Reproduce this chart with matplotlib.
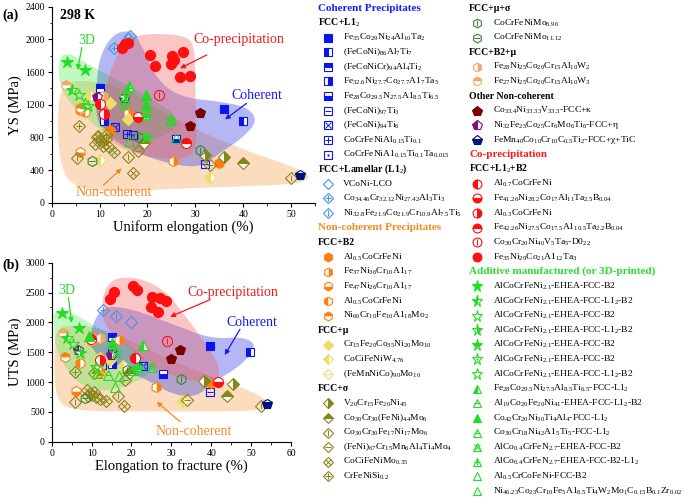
import re
import numpy as np
import matplotlib
matplotlib.use('Agg')
import matplotlib.pyplot as plt
from matplotlib.patches import Polygon

plt.rcParams['font.family'] = ['Liberation Serif', 'DejaVu Serif']
plt.rcParams['mathtext.fontset'] = 'custom'
plt.rcParams['mathtext.rm'] = 'Liberation Serif'
plt.rcParams['mathtext.it'] = 'Liberation Serif:italic'
plt.rcParams['mathtext.bf'] = 'Liberation Serif:bold'

# ---------------- data: (elongation, strength) pairs per alloy ----------------
# coherent precipitates, FCC+L1_2
COH_LABELS = ['Fe_35Co_29Ni_24Al_10Ta_2', '(FeCoNi)_86Al_7Ti_7', '(FeCoNiCr)_94Al_4Ti_2',
              'Fe_32.6Ni_27.7Co_27.7A1_7Ta_5', 'Fe_28Co_29.5N_27.5A1_8.5Ti_6.5', '(FeCoNi)_97Ti_3',
              '(FeCoNi)_94Ti_6', 'CoCrFeNiAl_0.15Ti_0.1', 'CoCrFeNiA1_0.15Ti_0.1Ta_0.015']
COH_YS = [[(36, 1145)], [(40, 1000)], [(10, 1400)], [(11, 995)], [(26, 780)],
          [(32, 475)], [(13.2, 925)], [(15.8, 840)], [(17, 830)]]
COH_UTS = [[(39.8, 1610)], [(49.7, 1500)], [(15, 1750)], [(15, 1310)], [(27.8, 1130)],
           [(39.8, 835)], [(22.8, 1265)], [(15, 1510)], [(12.5, 1285)]]

# coherent, FCC+lamellar
LAM_LABELS = ['VCoNi-LCO', 'Co_34.46Cr_32.12Ni_27.42Al_3Ti_3', 'Ni_32.8Fe_21.9Co_21.9Cr_10.9Al_7.5Ti_5']
LAM_YS = [[(16, 2010)], [(13, 1900)], [(16.3, 2040)]]
LAM_UTS = [[(19.9, 2005)], [(12.8, 2205)], [(16, 2110)]]

# non-coherent, FCC+B2
B2_LABELS = ['Al_0.5CoCrFeNi', 'Fe_37Ni_36Cr_10A1_17', 'Fe_47Ni_26Cr_10A1_17', 'Al_0.5CoCrFeNi',
             'Ni_60Cr_10Fe_10A1_18Mo_2']
B2_YS = [[(12.2, 890), (35, 490)], [(25.3, 510), (16, 1095)], [(6, 625), (11, 770)],
         [(5.9, 1135), (7, 1105)], [(6, 1160)]]
B2_UTS = [[(40, 990), (12.1, 1175)], [(26.1, 910), (17, 1705)], [(6.1, 850), (11.3, 1200)],
          [(7.1, 1325), (10.7, 1735)], [(3.3, 1425), (10, 1690)]]

# non-coherent, FCC+mu
MU_LABELS = ['Cr_15Fe_20Co_35Ni_20Mo_10', 'CoCiFeNiW_4.76', '(FeMnNiCo)_90Mo_10']
MU_YS = [[(12.2, 1215), (16, 1030)], [(7.9, 1305), (10.1, 520), (33.1, 318)], [(10.5, 850)]]
MU_UTS = [[(12.1, 1405), (14.6, 1370)], [(17.9, 1265), (33, 690)], [(12, 1100)]]

# non-coherent, FCC+sigma
SIG_LABELS = ['V_20Cr_15Fe_20Ni_45', 'Co_30Cr_30(FeNi)_44Mo_6', 'Co_30Cr_30Fe_17Ni_17Mo_6',
              '(FeNi)_67Cr_15Mn_6Al_4Ti_4Mo_4', 'CoCiFeNiMo_0.35', 'CrFeNiSi_0.2']
SIG_YS = [[(32, 585), (36, 555)], [(40, 485), (19.3, 725)], [(5.2, 545), (16, 560), (49.9, 300)],
          [(18, 630), (33, 460)],
          [(9.4, 800), (10.2, 760), (9, 720), (10.8, 700), (12, 680), (13, 620), (17, 360),
           (9.6, 820), (11.4, 780)],
          [(5.8, 940), (11.3, 830)]]
SIG_UTS = [[(38.2, 1015), (45.5, 970)], [(44, 770), (19.5, 1150)], [(5.8, 670), (16.7, 770), (52.5, 600)],
           [(18.4, 1035), (34, 700)],
           [(8.8, 870), (9.5, 820), (10.2, 780), (11.2, 750), (12, 720), (13.6, 690), (18.1, 605),
            (9, 760), (10.7, 840)],
           [(5.8, 1170), (10.5, 1150)]]

# non-coherent, FCC+mu+sigma
MS_LABELS = ['CoCrFeNiMo_6.96', 'CoCrFeNiMo_11.12']
MS_YS = [[(31, 645), (18, 810)], [(8.4, 505)]]
MS_UTS = [[(32.4, 1045), (19, 1200)], [(8.4, 730)]]

# non-coherent, FCC+B2+mu
BM_LABELS = ['Fe_28Ni_25Co_20Cr_15Al_10W_2', 'Fe_27Ni_25Co_20Cr_15Al_10W_3']
BM_YS = [[(10.8, 1310)], [(2.9, 1440)]]
BM_UTS = [[(12, 1740)], [(2.9, 1825)]]

# other non-coherent
OTH_LABELS = ['Co_33.4Ni_33.33V_33.3-FCC+κ', 'Ni_32Fe_25Co_25Cr_6Mo_6Ti_6-FCC+η',
              'FeMn_40Co_10Cr_10C_0.5Ti_2-FCC+χ+TiC']
OTH_YS = [[(31, 1095), (28.9, 940)], [(9.4, 1290), (15, 1285)], [(51.9, 340)]]
OTH_UTS = [[(32.2, 1545), (29.9, 1380)], [(6.7, 1535), (14.9, 1450)], [(53.9, 630)]]

# co-precipitation, FCC+L1_2+B2
CO_LABELS = ['Al_0.7CoCrFeNi', 'Fe_41.26Ni_28.2Co_17Al_11Ta_2.5B_0.04', 'Al_0.3CoCrFeNi',
             'Fe_42.26Ni_27.5Co_17.5A1_10.5Ta_2.2B_0.04', 'Co_30Cr_20Ni_40V_5Ta_5-D0_22',
             'Fe_35Ni_29Co_21A1_12Ta_3']
CO_YS = [[(10, 1205)], [(18, 1050)], [(11, 1085)], [(28, 725)], [(22.4, 1320)],
         [(14.6, 1890), (15.3, 1940), (15.9, 1960), (20.5, 1810), (21.6, 1675), (25.2, 1795),
          (24.9, 1700), (25.6, 1750), (27.5, 1850), (26.8, 1535), (28.9, 1550)]]
CO_UTS = [[(20.9, 1405)], [(41.8, 1005)], [(12, 1370)], [(9.8, 1720)], [(28.8, 1690)],
          [(14.6, 2385), (15.5, 2515), (20.5, 2610), (21.5, 2540), (25.1, 2430), (24.8, 2250),
           (27.2, 2415), (26.7, 2180), (28.6, 2365)]]

# additive manufactured (3D printed)
AM_LABELS = ['AlCoCrFeNi_2.1-EHEA-FCC-B2', 'AlCoCrFeNi_2.1-EHEA-FCC-L1_2-B2', 'AlCoCrFeNi_2.1-EHEA-FCC-B2',
             'AlCoCrFeNi_2.1-EHEA-FCC-L1_2-B2', 'AlCoCrFeNi_2.1-EHEA-FCC-B2', 'AlCoCrFeNi_2.1-EHEA-FCC-B2',
             'AlCoCrFeNi_2.1-EHEA-FCC-L1_2-B2', 'Fe_28Co_29.5Ni_27.5Al_8.5Ti_6.5-FCC-L1_2',
             'Al_19Co_20Fe_20Ni_41-EHEA-FCC-L1_2-B2', 'Co_42Cr_20Ni_30Ti_4Al_4-FCC-L1_2',
             'Co_30Cr_18Ni_42A1_5Ti_5-FCC-L1_2', 'AlCo_0.4CrFeN_2.7-EHEA-FCC-B2',
             'AlCo_0.4CrFeN_2.7-EHEA-FCC-B2-L1_2', 'Al_0.5CrCoFeNi-FCC-B2',
             'Ni_46.23Co_23Cr_10Fe_5A1_8.5Ti_4W_2Mo_1C_0.15B_0.1Zr_0.02']
AM_YS = [[(3.1, 1725), (7, 1625), (19.8, 800)], [(4.2, 1380)], [(5.6, 1320)], [(15, 1300)],
         [(19.8, 1060)], [(15.2, 1200)], [(7.5, 1190)], [(16.2, 1430)], [(6.9, 1215)],
         [(19.8, 1320), (19.8, 1195)], [(16.2, 1410)], [(24.7, 1010)], [(25, 1030)],
         [(16.2, 750)], [(26, 790)]]
AM_UTS = [[(2.7, 2150), (6.9, 1910)], [(3.9, 1740)], [(5.3, 1630)], [(7.1, 1490)],
          [(21.7, 1230)], [(16, 1480)], [(11, 1250)], [(23, 1620)], [(14.2, 1115)],
          [(9.4, 1770), (15, 1650)], [(11.3, 1145)], [(25.1, 1255)], [(20.5, 1200)],
          [(15.9, 910)], [(17, 1100)]]

# ---------------- styles: (marker, fill, inner marks) ----------------
COH_ST = [('s', 'full', ''), ('s', 'left', ''), ('s', 'top', ''), ('s', 'right', ''), ('s', 'bottom', ''),
          ('s', 'none', '_'), ('s', 'none', 'x'), ('s', 'none', '+'), ('s', 'none', '.')]
LAM_ST = [('D', 'none', ''), ('D', 'none', '+'), ('D', 'none', '|')]
B2_ST = [('h', 'full', ''), ('h', 'right', ''), ('h', 'bottom', ''), ('h', 'left', ''), ('h', 'top', '')]
MU_ST = [('D', 'full', ''), ('D', 'left', ''), ('D', 'none', '_')]
SIG_ST = [('D', 'right', ''), ('D', 'top', ''), ('D', 'none', '|'), ('D', 'none', '_'),
          ('D', 'none', 'x'), ('D', 'none', '+')]
MS_ST = [('h', 'none', '|'), ('h', 'none', '_')]
BM_ST = [('h', 'right', ''), ('h', 'top', '')]
OTH_ST = [('p', 'full', ''), ('p', 'left', ''), ('p', 'bottom', '')]
CO_ST = [('o', 'left', ''), ('o', 'bottom', ''), ('o', 'right', ''), ('o', 'top', ''),
         ('o', 'none', '|'), ('o', 'full', '')]
AM_ST = [('*', 'full', ''), ('*', 'left', ''), ('*', 'none', ''), ('*', 'right', ''), ('*', 'top', ''),
         ('*', 'none', '.'), ('*', 'none', ''), ('^', 'left', ''), ('^', 'none', '_'), ('^', 'full', ''),
         ('^', 'none', '_'), ('^', 'none', 'x'), ('^', 'none', '+'), ('^', 'none', ''), ('^', 'none', '')]

BLUE, LBLUE, ORANGE, YELLOW, OLIVE = '#0a14f0', '#3d9be8', '#ff7f0e', '#eedc6a', '#86861c'
DGREEN, LORANGE, DRED, PURPLE, NAVY = '#2e8b2e', '#f5a860', '#7a0000', '#80108a', '#00107a'
RED, GREEN = '#ff0f0f', '#22dd22'

SERIES = [(COH_LABELS, COH_YS, COH_UTS, COH_ST, [BLUE] * 9),
          (LAM_LABELS, LAM_YS, LAM_UTS, LAM_ST, [LBLUE] * 3),
          (B2_LABELS, B2_YS, B2_UTS, B2_ST, [ORANGE] * 5),
          (MU_LABELS, MU_YS, MU_UTS, MU_ST, [YELLOW] * 3),
          (SIG_LABELS, SIG_YS, SIG_UTS, SIG_ST, [OLIVE] * 6),
          (MS_LABELS, MS_YS, MS_UTS, MS_ST, [DGREEN] * 2),
          (BM_LABELS, BM_YS, BM_UTS, BM_ST, [LORANGE] * 2),
          (OTH_LABELS, OTH_YS, OTH_UTS, OTH_ST, [DRED, PURPLE, NAVY]),
          (CO_LABELS, CO_YS, CO_UTS, CO_ST, [RED] * 6),
          (AM_LABELS, AM_YS, AM_UTS, AM_ST, [GREEN] * 15)]

# shaded regions (outline vertices, smoothed below)
REG_YS = {
    'orange': [(1.5, 1300), (3, 1480), (8, 1500), (16, 1380), (22, 1150), (30, 900), (40, 650),
               (50, 450), (54.5, 330), (52, 230), (40, 200), (25, 170), (12, 130), (5, 180), (2, 400), (1.2, 900)],
    'green': [(1.5, 1800), (4, 1830), (8, 1680), (15, 1470), (21, 1260), (25.5, 1100), (26.5, 950),
              (23, 790), (17, 740), (12, 800), (8, 1000), (4, 1200), (1.5, 1450)],
    'blue': [(13, 2080), (17, 2110), (19, 1900), (22, 1500), (27, 1290), (35, 1240), (41, 1170),
             (43, 1000), (40, 800), (35, 600), (31, 430), (25, 470), (18, 600), (12, 800), (9.3, 1000),
             (9.3, 1400), (10, 1800)],
    'red': [(16.5, 2070), (28, 2060), (30, 1900), (30, 1200), (30.5, 700), (28, 520), (20, 560),
            (13, 700), (10, 950), (11, 1400), (13.5, 1800)],
}
REG_UTS = {
    'orange': [(1, 1900), (5, 1960), (12, 1900), (20, 1700), (30, 1350), (40, 1100), (50, 850),
               (55, 650), (53, 520), (40, 505), (20, 505), (5, 520), (1, 700), (0.5, 1400)],
    'green': [(0.5, 2200), (5, 2180), (10, 1960), (16, 1760), (22, 1500), (26, 1200), (20, 950),
              (12, 830), (6, 1000), (1, 1500), (0.5, 2000)],
    'blue': [(10, 1950), (13, 2280), (20, 2230), (30, 1980), (40, 1720), (48, 1760), (51.5, 1620),
             (48, 1300), (40, 970), (36, 740), (30, 800), (25, 1000), (15, 1300), (9.5, 1550)],
    'red': [(14, 2650), (17, 2760), (23, 2730), (29, 2500), (33, 2150), (38, 1700), (42.5, 1250),
            (41, 950), (33, 1050), (25, 1250), (18, 1650), (13, 1950), (12.5, 2350)],
}
REG_COL = {'orange': '#f89c4a', 'green': '#4af04c', 'blue': '#2a33dd', 'red': '#f85a5a'}

SIZE_K = {'*': 1.4, 'p': 1.2, 'o': 1.1, 'h': 1.1, 'D': 0.85, 's': 0.95, '^': 1.0}


def sub(s):
    return re.sub(r'_([0-9.]*[0-9])', r'$_{\1}$', s)


def put(ax, pts, color, st, ms=6.6, z=5):
    if not pts:
        return
    x, y = zip(*pts)
    marker, fill, inner = st
    size = ms * SIZE_K[marker]
    if fill == 'none':
        ax.plot(x, y, ls='none', marker=marker, ms=size, mfc='none', mec=color, mew=0.8, zorder=z)
    else:
        ax.plot(x, y, ls='none', marker=marker, ms=size, mfc=color, mfcalt='white',
                fillstyle=fill, mec=color, mew=0.8, zorder=z)
    for m in inner:
        k = 0.3 if m == '.' else 0.72
        ax.plot(x, y, ls='none', marker=m, ms=ms * k, mfc=color, mec=color, mew=0.7, zorder=z)


def smooth(pts, n=4):
    p = np.asarray(pts, float)
    for _ in range(n):
        q = np.roll(p, -1, axis=0)
        p = np.stack([0.75 * p + 0.25 * q, 0.25 * p + 0.75 * q], axis=1).reshape(-1, 2)
    return p


fig = plt.figure(figsize=(6.92, 5.01), dpi=100)
ax1 = fig.add_axes([0.0747, 0.5954, 0.3805, 0.3912])
ax2 = fig.add_axes([0.0747, 0.1184, 0.3458, 0.3572])

for ax, regs, which in [(ax1, REG_YS, 1), (ax2, REG_UTS, 2)]:
    for key in ['orange', 'green', 'blue', 'red']:
        ax.add_patch(Polygon(smooth(regs[key]), closed=True, fc=REG_COL[key], ec='none',
                             alpha=0.35, zorder=1))
    for labels, ys, uts, sts, cols in SERIES:
        data = ys if which == 1 else uts
        for pts, st, c in zip(data, sts, cols):
            put(ax, pts, c, st)
    for s in ['top', 'right']:
        ax.spines[s].set_visible(False)
    ax.tick_params(direction='out', length=3, width=0.8, labelsize=7, pad=2)
    ax.tick_params(which='minor', direction='out', length=1.8, width=0.6)

ax1.set_xlim(0, 55)
ax1.set_ylim(0, 2400)
ax1.set_xticks(np.arange(0, 51, 10))
ax1.set_xticks(np.arange(0, 56, 5), minor=True)
ax1.set_yticks(np.arange(0, 2401, 400))
ax1.set_yticks(np.arange(0, 2401, 200), minor=True)
ax1.set_xlabel('Uniform elongation (%)', fontsize=10.5, labelpad=1)
ax1.set_ylabel('YS (MPa)', fontsize=10.5, labelpad=2)

ax2.set_xlim(0, 60)
ax2.set_ylim(0, 3000)
ax2.set_xticks(np.arange(0, 61, 10))
ax2.set_xticks(np.arange(0, 61, 5), minor=True)
ax2.set_yticks(np.arange(0, 3001, 500))
ax2.set_yticks(np.arange(0, 3001, 250), minor=True)
ax2.set_xlabel('Elongation to fracture (%)', fontsize=10.5, labelpad=1)
ax2.set_ylabel('UTS (MPa)', fontsize=10.5, labelpad=2)

ax1.text(1.8, 2290, '298 K', fontsize=10, fontweight='bold', va='center')


def note(ax, text, color, xy_text, tail, head):
    ax.text(*xy_text, text, color=color, fontsize=10, ha='center', va='center', zorder=6)
    ax.annotate('', xy=head, xytext=tail, zorder=6,
                arrowprops=dict(arrowstyle='-|>', color=color, lw=0.9, mutation_scale=7,
                                shrinkA=0, shrinkB=0))


note(ax1, 'Co-precipitation', '#f01a1a', (39, 1995), (32.4, 1810), (26.8, 1645))
note(ax1, 'Coherent', '#1a1af0', (42.8, 1318), (40.7, 1216), (36.2, 1020))
note(ax1, '3D', '#22dd22', (7.3, 1990), (6.3, 1900), (5.4, 1625))
note(ax1, 'Non-coherent', '#f5892a', (12.9, 122), (10.8, 216), (14.6, 420))
note(ax2, 'Co-precipitation', '#f01a1a', (45.5, 2497), (39.7, 2380), (29.7, 2095))
note(ax2, 'Coherent', '#1a1af0', (50.1, 1994), (47.2, 1883), (43.4, 1453))
note(ax2, '3D', '#22dd22', (3.8, 2531), (4.2, 2419), (5, 1994))
note(ax2, 'Non-coherent', '#f5892a', (35.5, 168), (32.2, 335), (26.3, 670))

fig.text(2 / 692, 1 - 15 / 501, '(a)', fontsize=10, fontweight='bold', va='center')
fig.text(2 / 692, 1 - 265 / 501, '(b)', fontsize=10, fontweight='bold', va='center')

# ---------------- legend (drawn in pixel coordinates) ----------------
lg = fig.add_axes([0, 0, 1, 1])
lg.set_xlim(0, 692)
lg.set_ylim(501, 0)
lg.set_axis_off()


def entries(k):
    labels, ys, uts, sts, cols = SERIES[k]
    return [('e', l, st, c) for l, st, c in zip(labels, sts, cols)]


col1 = ([('h', 'Coherent Precipitates', '#1a1aff'), ('s', 'FCC+L1_2')] + entries(0)
        + [('s', 'FCC+Lamellar (L1_2)')] + entries(1)
        + [('h', 'Non-coherent Precipitates', '#f58a1f'), ('s', 'FCC+B2')] + entries(2)
        + [('s', 'FCC+μ')] + entries(3) + [('s', 'FCC+σ')] + entries(4))
col2 = ([('s', 'FCC+μ+σ')] + entries(5) + [('s', 'FCC+B2+μ')] + entries(6)
        + [('s', 'Other Non-coherent')] + entries(7)
        + [('h', 'Co-precipitation', '#ff1a1a'), ('s', 'FCC+L1_2+B2')] + entries(8)
        + [('h', 'Additive manufactured (or 3D-printed)', '#2add2a')] + entries(9))

STEP = 14.63
for rows, xh, xm, xt in [(col1, 318, 328, 343), (col2, 469, 477, 493)]:
    for i, r in enumerate(rows):
        y = 8.3 + i * STEP
        if r[0] == 'h':
            lg.text(xh, y, r[1], color=r[2], fontsize=8, fontweight='bold', va='center')
        elif r[0] == 's':
            lg.text(xh, y, sub(r[1]), fontsize=7, fontweight='bold', va='center')
        else:
            put(lg, [(xm, y)], r[3], r[2], ms=5.8)
            lg.text(xt, y, sub(r[1]), fontsize=6.8, va='center')

fig.savefig('out.png', dpi=100)
